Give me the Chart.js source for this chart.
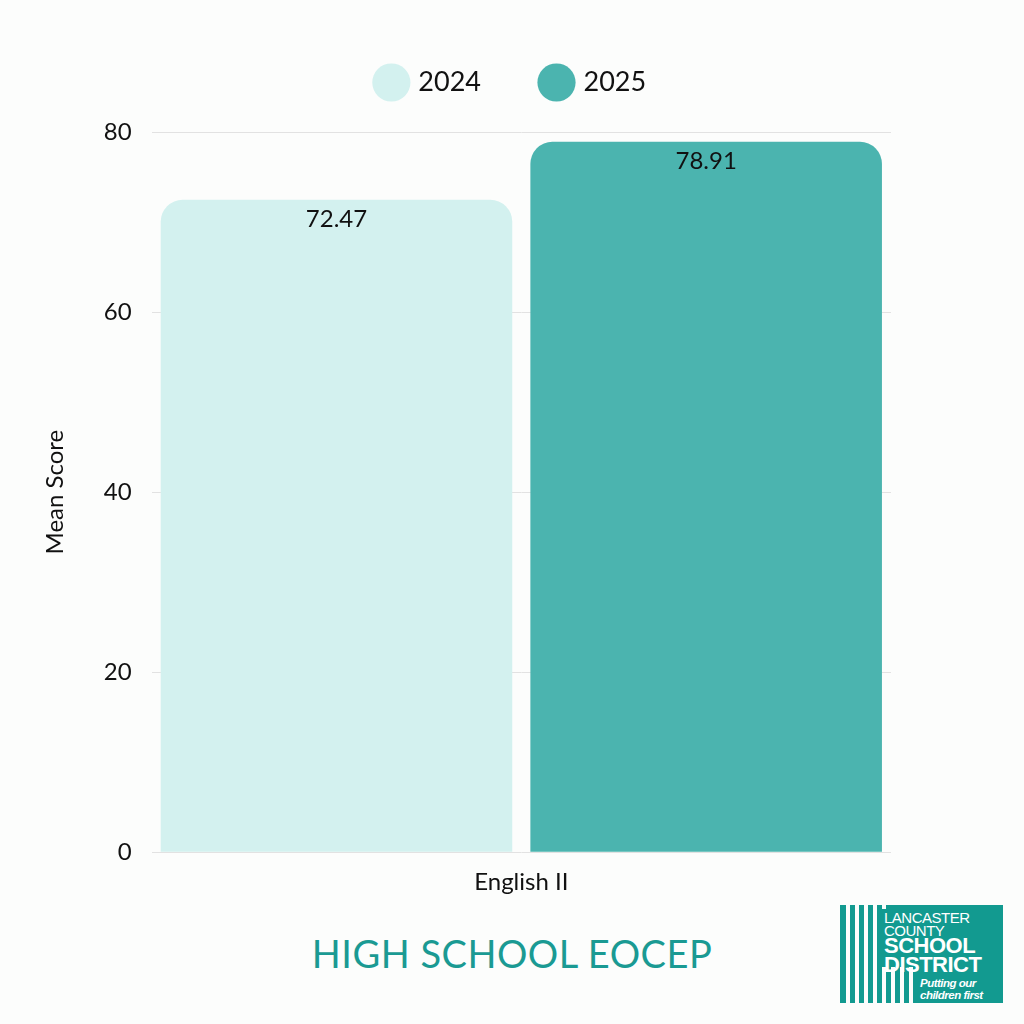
<!DOCTYPE html>
<html>
<head>
<meta charset="utf-8">
<script src="https://cdn.jsdelivr.net/npm/chart.js@4"></script>
<style>
  body { margin:0; width:1024px; height:1024px; background:#fcfdfc; position:relative; overflow:hidden; font-family:Lato, "Open Sans", sans-serif; }
  #wrap { position:absolute; left:0; top:0; width:1024px; height:905px; }
  #title { position:absolute; left:0; width:1024px; top:930px; text-align:center; font-size:38px; color:#1a9a93; letter-spacing:0.5px; }
  #logo { position:absolute; left:840px; top:905px; width:163px; height:98px; background:#129a90; color:#fff; font-family:"Liberation Sans", Arial, sans-serif; overflow:hidden; }
  .stripe { position:absolute; top:0; width:4px; height:98px; background:#fcfdfc; }
  #logo .t { position:absolute; left:44px; line-height:1; letter-spacing:-0.5px; }
</style>
</head>
<body>
<div id="wrap"><canvas id="chart"></canvas></div>
<div id="title">HIGH SCHOOL EOCEP</div>
<div id="logo">
  <div class="stripe" style="left:6px"></div>
  <div class="stripe" style="left:15px"></div>
  <div class="stripe" style="left:24px"></div>
  <div class="stripe" style="left:33px"></div>
  <div class="stripe" style="left:42px;height:4px"></div>
  <div class="stripe" style="left:42px;top:62px;height:36px"></div>
  <div class="stripe" style="left:51px;top:62px;height:36px"></div>
  <div class="stripe" style="left:60px;top:62px;height:36px"></div>
  <div class="stripe" style="left:69px;top:62px;height:36px"></div>
  <div class="t" style="top:5px;font-size:15px;">LANCASTER</div>
  <div class="t" style="top:18px;font-size:15px;">COUNTY</div>
  <div class="t" style="top:30px;font-size:22px;font-weight:bold;">SCHOOL</div>
  <div class="t" style="top:49px;font-size:22px;font-weight:bold;">DISTRICT</div>
  <div class="t" style="left:80px;top:73px;font-size:11.5px;font-weight:bold;font-style:italic;">Putting our</div>
  <div class="t" style="left:80px;top:85px;font-size:11.5px;font-weight:bold;font-style:italic;">children first</div>
</div>
<script>
// chart data
const categories = ["English II"];
const years = ["2024", "2025"];
const scores2024 = [72.47];
const scores2025 = [78.91];
const yTicks = [0, 20, 40, 60, 80];

const valueLabels = {
  id: "valueLabels",
  afterDatasetsDraw(chart) {
    const ctx = chart.ctx;
    ctx.save();
    ctx.font = "24px Lato, sans-serif";
    ctx.fillStyle = "#111";
    ctx.textAlign = "center";
    ctx.textBaseline = "middle";
    chart.data.datasets.forEach((ds, i) => {
      chart.getDatasetMeta(i).data.forEach((bar, j) => {
        ctx.fillText(ds.data[j].toFixed(2), bar.x, bar.y + 19);
      });
    });
    ctx.restore();
  }
};

// extra space under the legend, and center it on the page
const legendTweak = {
  id: "legendTweak",
  beforeLayout(chart) {
    const lg = chart.legend;
    if (lg && !lg._patched) {
      const fit = lg.fit;
      lg.fit = function () { fit.call(this); this.height += 26; };
      lg._patched = true;
    }
  },
  afterLayout(chart) {
    chart.legend.left = 0;
    chart.legend.right = chart.width;
  }
};

new Chart(document.getElementById("chart"), {
  type: "bar",
  data: {
    labels: categories,
    datasets: [
      { label: years[0], data: scores2024, backgroundColor: "#d3f1ef", borderRadius: { topLeft: 22, topRight: 22 }, borderSkipped: "bottom" },
      { label: years[1], data: scores2025, backgroundColor: "#4bb4af", borderRadius: { topLeft: 22, topRight: 22 }, borderSkipped: "bottom" }
    ]
  },
  options: {
    responsive: true,
    maintainAspectRatio: false,
    animation: false,
    layout: { padding: { left: 27, right: 133, top: 7, bottom: 0 } },
    datasets: { bar: { categoryPercentage: 1, barPercentage: 0.951 } },
    plugins: {
      legend: {
        position: "top",
        labels: { usePointStyle: true, pointStyle: "circle", boxWidth: 28, boxHeight: 28, padding: 62, font: { size: 27, family: "Lato" }, color: "#111" }
      },
      tooltip: { enabled: false }
    },
    scales: {
      x: {
        grid: { display: false },
        border: { display: false },
        ticks: { font: { size: 24, family: "Lato" }, color: "#111", padding: 8 }
      },
      y: {
        min: 0, max: 80,
        afterBuildTicks: axis => { axis.ticks = yTicks.map(v => ({ value: v })); },
        grid: { color: "#e2e2e2", drawTicks: false },
        border: { display: false },
        ticks: { font: { size: 24, family: "Lato" }, color: "#111", padding: 20 },
        title: { display: true, text: "Mean Score", font: { size: 24, family: "Lato" }, color: "#111", padding: 14 }
      }
    }
  },
  plugins: [valueLabels, legendTweak]
});
</script>
</body>
</html>
